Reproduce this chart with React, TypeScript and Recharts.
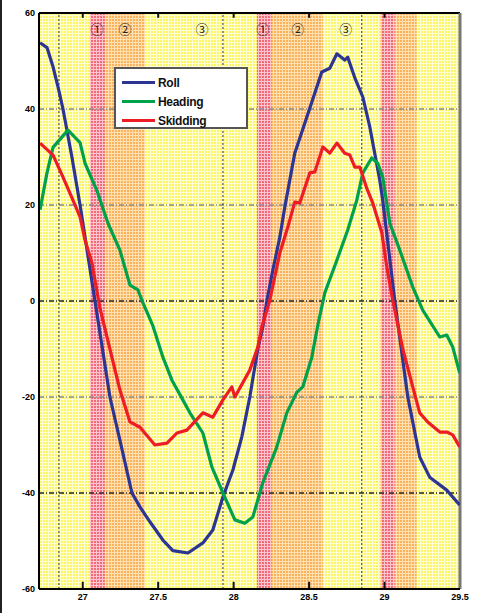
import React from 'react'
import {
  LineChart,
  Line,
  XAxis,
  YAxis,
  ReferenceArea,
  ReferenceLine,
  Legend,
} from 'recharts'

// time axis (s) and angle (deg)
const rollT = [26.717, 26.763, 26.803, 26.836, 26.869, 26.928, 26.982, 27.081, 27.18, 27.246, 27.326, 27.379, 27.445, 27.531, 27.597, 27.697, 27.796, 27.862, 27.929, 27.995, 28.054, 28.107, 28.16, 28.193, 28.22, 28.26, 28.306, 28.339, 28.405, 28.505, 28.584, 28.637, 28.684, 28.736, 28.756, 28.803, 28.856, 28.902, 28.968, 28.988, 29.068, 29.154, 29.233, 29.299, 29.412, 29.498]
const rollDeg = [53.8, 52.8, 48.8, 44.6, 40, 30, 20, 0, -20, -29, -40, -42.9, -46, -49.8, -52, -52.5, -50.4, -47.7, -40.8, -35.2, -28.3, -20, -10, -5.4, 0, 6.5, 13.3, 19.6, 30.8, 40.2, 47.7, 48.5, 51.5, 50.2, 50.8, 46.5, 42.5, 36.3, 25.2, 21, 0, -20, -32.5, -36.7, -39.4, -42.5]

const headingT = [26.717, 26.763, 26.803, 26.902, 26.982, 27.015, 27.094, 27.167, 27.246, 27.313, 27.366, 27.399, 27.465, 27.531, 27.591, 27.644, 27.71, 27.796, 27.856, 27.929, 28.008, 28.074, 28.127, 28.193, 28.286, 28.352, 28.419, 28.458, 28.518, 28.558, 28.604, 28.684, 28.756, 28.816, 28.856, 28.915, 28.955, 28.988, 29.035, 29.101, 29.187, 29.253, 29.366, 29.412, 29.452, 29.498]
const headingDeg = [19, 26.7, 32, 35.6, 33, 28.7, 23, 16.2, 10.6, 3.3, 2.3, -0.4, -5.2, -11.7, -16.5, -19.5, -23.3, -27.5, -34.6, -40, -45.6, -46.3, -45, -37.9, -30.4, -23.3, -19, -17.9, -11.7, -5, 1.7, 8.5, 14.8, 21, 26.7, 29.8, 28.7, 25.8, 16.2, 10.6, 2.9, -1.9, -7.5, -7.1, -9.6, -15]

const skidT = [26.717, 26.803, 26.869, 26.935, 26.982, 27.015, 27.061, 27.094, 27.114, 27.18, 27.246, 27.313, 27.379, 27.478, 27.558, 27.624, 27.69, 27.796, 27.862, 27.929, 27.988, 28.008, 28.107, 28.16, 28.187, 28.24, 28.306, 28.359, 28.405, 28.438, 28.505, 28.538, 28.591, 28.637, 28.684, 28.736, 28.77, 28.803, 28.836, 28.882, 28.922, 28.982, 29.015, 29.054, 29.121, 29.187, 29.233, 29.286, 29.366, 29.412, 29.452, 29.498]
const skidDeg = [32.9, 30.4, 25.8, 21, 17.5, 12.7, 7.9, 2, -1.5, -10, -18.5, -25.2, -26.3, -30, -29.6, -27.5, -26.9, -23.3, -24.2, -20.6, -17.9, -20, -14.4, -9.6, -5.4, 0.2, 10, 15.4, 20.6, 20.4, 26.7, 26.9, 32.1, 30.8, 32.9, 30.8, 30.4, 27.9, 27.9, 23.5, 20.4, 14.2, 7.1, 0.2, -10, -17.9, -23.3, -25.2, -27.3, -27.3, -27.9, -30.4]

// phase bands: red (1) from start to mid, orange (2) from mid to end
const bandStart = [27.048, 28.154, 28.975]
const bandMid = [27.147, 28.253, 29.068]
const bandEnd = [27.412, 28.591, 29.213]

const phaseLabelT = [27.094, 27.28, 27.79, 28.193, 28.425, 28.743]
const phaseLabels = ['①', '②', '③', '①', '②', '③']

const markerT = [26.842, 27.929, 28.849]

const xDomain = [26.71, 29.5]
const xTicks = [27, 27.5, 28, 28.5, 29, 29.5]
const yTicks = [-60, -40, -20, 0, 20, 40, 60]
const gridY = [40, 20, 0, -20, -40]

const series = [
  { name: 'Roll', t: rollT, v: rollDeg, color: '#2d3592' },
  { name: 'Heading', t: headingT, v: headingDeg, color: '#00a14b' },
  { name: 'Skidding', t: skidT, v: skidDeg, color: '#ee1c25' },
]

const toRows = (t: number[], v: number[]) => t.map((x, i) => ({ t: x, v: v[i] }))

const tickStyle = { fontSize: 9, fontWeight: 'bold', fill: '#000', fontFamily: 'Liberation Sans' }

const LegendBox = () => (
  <div
    style={{
      width: 134,
      height: 62,
      background: '#fff',
      border: '2px solid #555',
      boxSizing: 'border-box',
      padding: '4px 0 0 6px',
      fontFamily: 'Liberation Sans',
      fontWeight: 'bold',
      fontSize: 12,
      color: '#111',
    }}
  >
    {series.map((s) => (
      <div key={s.name} style={{ display: 'flex', alignItems: 'center', height: 19 }}>
        <span style={{ display: 'inline-block', width: 33, height: 3, background: s.color, marginRight: 3 }} />
        <span style={{ letterSpacing: -0.3 }}>{s.name}</span>
      </div>
    ))}
  </div>
)

const Pattern = ({ id, base, line }: { id: string; base: string; line: string }) => (
  <pattern id={id} patternUnits="userSpaceOnUse" width={3} height={3}>
    <rect x={0} y={0} width={3} height={3} fill={base} />
    <rect x={0} y={0} width={3} height={1} fill={line} />
    <rect x={0} y={0} width={1} height={3} fill={line} />
  </pattern>
)

export default function App() {
  return (
    <div style={{ position: 'absolute', left: 0, top: 0, width: 490, height: 613, background: '#fff' }}>
      <div style={{ position: 'absolute', left: 0, top: 0, width: 2, height: 613, background: '#222' }} />
      <LineChart
        width={490}
        height={613}
        margin={{ top: 13, right: 30, bottom: 4, left: 9 }}
      >
        <defs>
          <Pattern id="yelGrid" base="#fcf56c" line="#ffffd4" />
          <Pattern id="redGrid" base="#f26a7a" line="#fcc6cc" />
          <Pattern id="orgGrid" base="#fab35a" line="#fee0b2" />
        </defs>
        <XAxis
          dataKey="t"
          type="number"
          domain={xDomain}
          ticks={xTicks}
          allowDataOverflow
          height={20}
          tickLine={false}
          tickSize={3}
          tickMargin={2}
          axisLine={{ stroke: '#000', strokeWidth: 2 }}
          tick={tickStyle}
        />
        <YAxis
          domain={[-60, 60]}
          ticks={yTicks}
          allowDataOverflow
          width={30}
          tickLine={false}
          tickSize={2}
          tickMargin={2}
          axisLine={{ stroke: '#000', strokeWidth: 2 }}
          tick={tickStyle}
        />
        <ReferenceArea x1={xDomain[0]} x2={xDomain[1]} y1={-60} y2={60} fill="url(#yelGrid)" fillOpacity={1} />
        {bandStart.map((s, i) => (
          <ReferenceArea key={'r' + i} x1={s} x2={bandMid[i]} y1={-60} y2={60} fill="url(#redGrid)" fillOpacity={1} />
        ))}
        {bandMid.map((s, i) => (
          <ReferenceArea key={'o' + i} x1={s} x2={bandEnd[i]} y1={-60} y2={60} fill="url(#orgGrid)" fillOpacity={1} />
        ))}
        {gridY.map((y) => (
          <ReferenceLine
            key={'gy' + y}
            y={y}
            stroke={y === 0 || y === -40 ? '#222' : '#888'}
            strokeWidth={1.5}
            strokeDasharray="5 2 1 2"
          />
        ))}
        {markerT.map((x) => (
          <ReferenceLine key={'mx' + x} x={x} stroke="#333" strokeDasharray="2 2" />
        ))}
        {phaseLabelT.map((x, i) => (
          <ReferenceLine
            key={'pl' + i}
            x={x}
            stroke="none"
            label={{ value: phaseLabels[i], position: 'insideTop', offset: 12, fontSize: 13, fill: '#222', fontFamily: 'Noto Sans CJK JP' }}
          />
        ))}
        {xTicks.slice(0, -1).map((x) => (
          <ReferenceLine key={'bt' + x} segment={[{ x, y: -60 }, { x, y: -58.5 }]} stroke="#111" strokeWidth={2} />
        ))}
        {xTicks.slice(0, -1).map((x) => (
          <ReferenceLine key={'tt' + x} segment={[{ x, y: 60 }, { x, y: 59 }]} stroke="#111" strokeWidth={2} />
        ))}
        <ReferenceLine y={60} stroke="#000" strokeWidth={2} />
        <ReferenceLine x={xDomain[1]} stroke="#777" strokeWidth={3} />
        {series.map((s) => (
          <Line
            key={s.name}
            data={toRows(s.t, s.v)}
            dataKey="v"
            name={s.name}
            type="linear"
            stroke={s.color}
            strokeWidth={3.2}
            strokeLinejoin="round"
            dot={false}
            isAnimationActive={false}
          />
        ))}
        <Legend
          layout="vertical"
          align="center"
          verticalAlign="middle"
          content={<LegendBox />}
          wrapperStyle={{ left: 114, top: 67, width: 134, height: 62 }}
        />
      </LineChart>
    </div>
  )
}
